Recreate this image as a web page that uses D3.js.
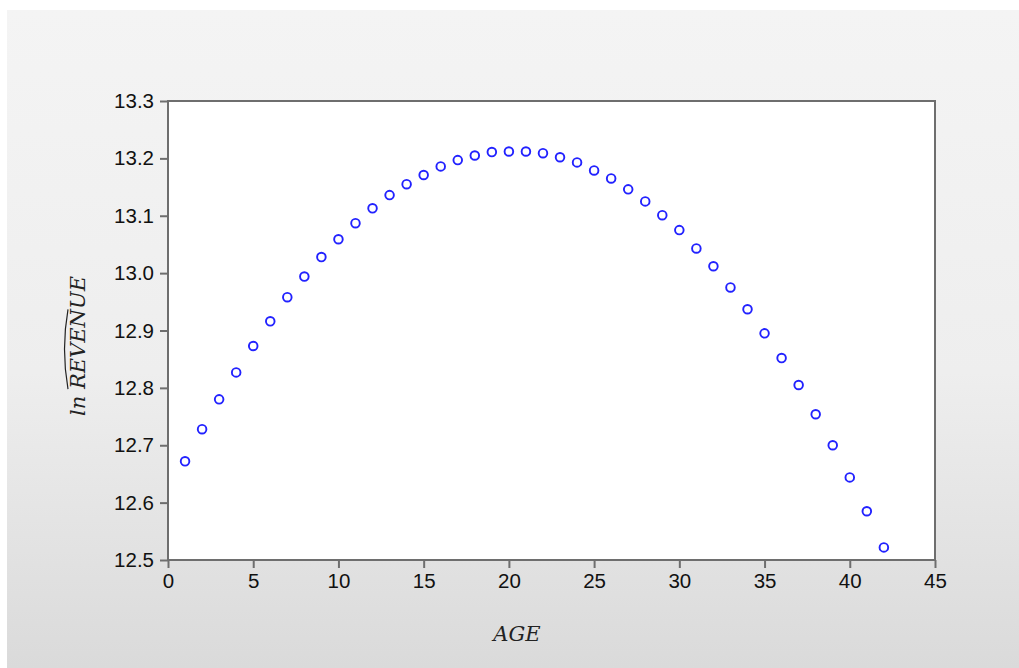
<!DOCTYPE html>
<html>
<head>
<meta charset="utf-8">
<script src="https://cdn.jsdelivr.net/npm/d3@7"></script>
<style>
  html, body { margin: 0; padding: 0; background: #fff; }
  svg { display: block; }
  .tick text { font-family: "Liberation Sans", Arial, sans-serif; font-size: 20.5px; fill: #111; }
  .axis path, .axis line { stroke: #6e6e6e; stroke-width: 2; }
  .title { font-family: "DejaVu Serif", "Liberation Serif", serif; font-style: italic; font-size: 21px; fill: #222; }
</style>
</head>
<body>
<svg id="chart" width="1019" height="668"></svg>
<script>
// age 1..42 and fitted ln revenue
var ages = d3.range(1, 43);
var lnRevenue = [
  12.672, 12.728, 12.780, 12.827, 12.873, 12.916, 12.958, 12.994, 13.028, 13.059,
  13.087, 13.113, 13.136, 13.155, 13.171, 13.186, 13.197, 13.205, 13.211, 13.212,
  13.212, 13.209, 13.202, 13.193, 13.179, 13.165, 13.146, 13.125, 13.101, 13.075,
  13.043, 13.012, 12.975, 12.937, 12.895, 12.852, 12.805, 12.754, 12.700, 12.644,
  12.585, 12.522
];
var xTicks = [0, 5, 10, 15, 20, 25, 30, 35, 40, 45];
var yTicks = [12.5, 12.6, 12.7, 12.8, 12.9, 13.0, 13.1, 13.2, 13.3];

var svg = d3.select("#chart");
var margin = {top: 101, left: 168, right: 84, bottom: 108};
var width = 1019 - margin.left - margin.right,
    height = 668 - margin.top - margin.bottom;

// panel background
var grad = svg.append("defs").append("linearGradient")
    .attr("id", "bg").attr("x1", 0).attr("y1", 0).attr("x2", 0).attr("y2", 1);
grad.append("stop").attr("offset", "0%").attr("stop-color", "#f4f4f4");
grad.append("stop").attr("offset", "55%").attr("stop-color", "#eeeeee");
grad.append("stop").attr("offset", "100%").attr("stop-color", "#dadada");
svg.append("rect").attr("x", 7).attr("y", 10).attr("width", 1012).attr("height", 658)
    .attr("fill", "url(#bg)");

var x = d3.scaleLinear().domain([0, 45]).range([0, width]);
var y = d3.scaleLinear().domain([12.5, 13.3]).range([height, 0]);

var g = svg.append("g").attr("transform", "translate(" + margin.left + "," + margin.top + ")");

g.append("rect").attr("width", width).attr("height", height).attr("fill", "#fff")
    .attr("stroke", "#6e6e6e").attr("stroke-width", 2);

g.append("g").attr("class", "x axis")
    .attr("transform", "translate(0," + height + ")")
    .call(d3.axisBottom(x).tickValues(xTicks).tickSize(8).tickPadding(5).tickFormat(d3.format("d")));

g.append("g").attr("class", "y axis")
    .call(d3.axisLeft(y).tickValues(yTicks).tickSize(8).tickPadding(6).tickFormat(d3.format(".1f")));

g.selectAll(".axis .domain").remove();

g.selectAll(".dot")
    .data(ages)
  .enter().append("circle")
    .attr("class", "dot")
    .attr("cx", function(d) { return x(d); })
    .attr("cy", function(d, i) { return y(lnRevenue[i]); })
    .attr("r", 4.3)
    .attr("fill", "none")
    .attr("stroke", "#2222ff")
    .attr("stroke-width", 1.9);

// axis titles
svg.append("text").attr("class", "title")
    .attr("x", 517).attr("y", 641).attr("text-anchor", "middle")
    .text("AGE");

var yt = svg.append("g").attr("transform", "translate(85,346) rotate(-90)");
var ytxt = yt.append("text").attr("class", "title").attr("text-anchor", "middle");
ytxt.append("tspan").text("ln ");
var hatPart = ytxt.append("tspan").text("REVEN");
ytxt.append("tspan").text("UE");

// wide hat over REVEN
var bb = hatPart.node().getBBox();
yt.append("path")
    .attr("d", "M" + (bb.x + 1) + "," + (bb.y + 2) +
      " Q" + (bb.x + bb.width / 2) + "," + (bb.y - 5) + " " + (bb.x + bb.width - 1) + "," + (bb.y + 2))
    .attr("fill", "none").attr("stroke", "#222").attr("stroke-width", 1.2);
</script>
</body>
</html>
